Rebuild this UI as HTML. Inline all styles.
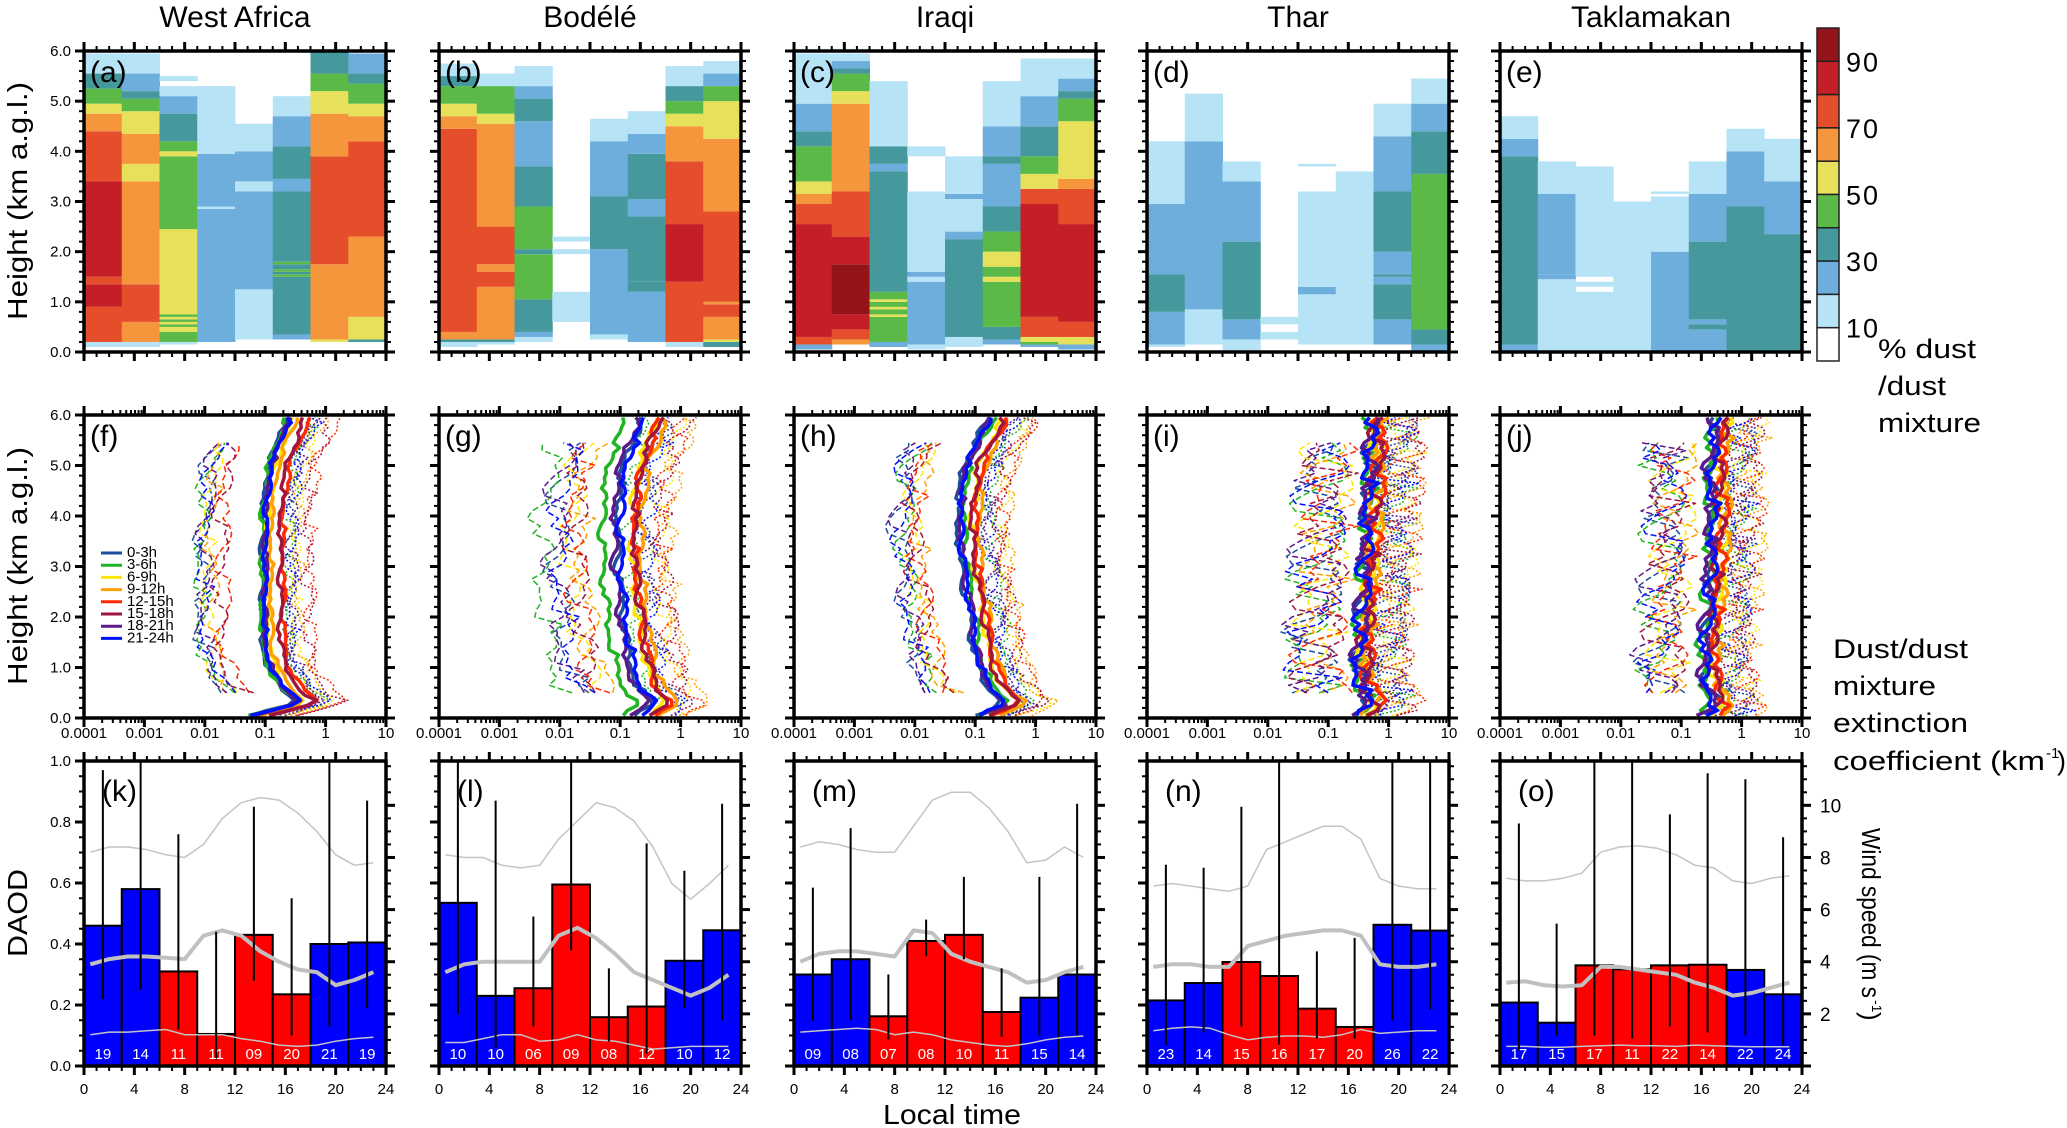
<!DOCTYPE html>
<html><head><meta charset="utf-8"><title>Dust diurnal cycle</title>
<style>
html,body{margin:0;padding:0;background:#fff;}
svg{display:block;}
text{font-family:"Liberation Sans",sans-serif;fill:#000;}
.tk{font-family:"Liberation Sans Narrow","Liberation Sans",sans-serif;font-size:15px;}
</style></head>
<body>
<svg id="fig" xmlns="http://www.w3.org/2000/svg" width="2067" height="1128" viewBox="0 0 2067 1128"></svg>
<script>
// ---------- DATA ----------
const regions = ["West Africa","Bodélé","Iraqi","Thar","Taklamakan"];
const levelColors = ["#ffffff","#b7e3f7","#6daedd","#45999c","#5bba47","#e6e05a","#f6963c","#e54e2a","#c41f26","#941519"];
const cbarLabels = ["90","70","50","30","10"];
const heatA = [
 [[0.1,0.2,1],[0.2,0.9,7],[0.9,1.35,8],[1.35,1.5,7],[1.5,3.4,8],[3.4,4.4,7],[4.4,4.75,6],[4.75,4.95,5],[4.95,5.25,4],[5.25,5.55,3],[5.55,5.95,1]],
 [[0.1,0.2,1],[0.2,0.6,6],[0.6,1.35,7],[1.35,3.4,6],[3.4,3.75,5],[3.75,4.35,6],[4.35,4.8,5],[4.8,5.05,4],[5.05,5.2,3],[5.2,5.55,2],[5.55,5.95,1]],
 [[0.15,0.2,1],[0.2,0.4,4],[0.4,0.5,5],[0.5,0.55,4],[0.55,0.6,5],[0.6,0.65,4],[0.65,0.7,5],[0.7,0.75,4],[0.75,2.45,5],[2.45,3.9,4],[3.9,4.0,5],[4.0,4.2,4],[4.2,4.75,3],[4.75,5.1,2],[5.1,5.3,1],[5.4,5.5,1]],
 [[0.2,2.85,2],[2.85,2.9,1],[2.9,3.95,2],[3.95,5.3,1]],
 [[0.25,1.25,1],[1.25,3.2,2],[3.2,3.4,1],[3.4,4.0,2],[4.0,4.55,1]],
 [[0.25,0.35,2],[0.35,1.5,3],[1.5,1.55,4],[1.55,1.6,3],[1.6,1.65,4],[1.65,1.75,3],[1.75,1.8,4],[1.8,3.2,3],[3.2,3.45,2],[3.45,4.1,3],[4.1,4.7,2],[4.7,5.1,1]],
 [[0.2,0.25,5],[0.25,1.75,6],[1.75,3.9,7],[3.9,4.75,6],[4.75,5.2,5],[5.2,5.55,4],[5.55,6.0,3]],
 [[0.2,0.25,3],[0.25,0.7,5],[0.7,2.3,6],[2.3,4.2,7],[4.2,4.7,6],[4.7,4.95,5],[4.95,5.35,4],[5.35,5.55,3],[5.55,5.95,2]]
];
const heatB = [
 [[0.1,0.2,1],[0.2,0.25,3],[0.25,0.4,6],[0.4,4.45,7],[4.45,4.7,6],[4.7,4.95,5],[4.95,5.3,4],[5.3,5.5,3],[5.5,5.75,1]],
 [[0.15,0.2,1],[0.2,0.25,3],[0.25,1.3,6],[1.3,1.6,7],[1.6,1.75,6],[1.75,2.5,7],[2.5,4.55,6],[4.55,4.75,5],[4.75,5.3,4],[5.3,5.55,1]],
 [[0.2,0.3,1],[0.3,0.4,2],[0.4,1.05,3],[1.05,1.95,4],[1.95,2.05,3],[2.05,2.9,4],[2.9,3.7,3],[3.7,4.6,2],[4.6,5.05,3],[5.05,5.3,2],[5.3,5.7,1]],
 [[0.6,1.2,1],[1.95,2.05,1],[2.2,2.3,1]],
 [[0.25,0.35,1],[0.35,2.05,2],[2.05,3.1,3],[3.1,3.25,2],[3.25,4.2,2],[4.2,4.65,1]],
 [[0.2,1.2,2],[1.2,1.4,3],[1.4,2.7,3],[2.7,3.05,2],[3.05,3.95,3],[3.95,4.35,2],[4.35,4.8,1]],
 [[0.1,0.2,1],[0.2,1.4,7],[1.4,2.55,8],[2.55,3.8,7],[3.8,4.5,6],[4.5,4.75,5],[4.75,5.0,4],[5.0,5.3,3],[5.3,5.7,1]],
 [[0.1,0.2,3],[0.2,0.25,5],[0.25,0.7,6],[0.7,0.95,7],[0.95,1.0,6],[1.0,2.8,7],[2.8,4.25,6],[4.25,5.0,5],[5.0,5.3,4],[5.3,5.55,2],[5.55,5.8,1]]
];
const heatC = [
 [[0.05,0.15,2],[0.15,0.3,7],[0.3,2.55,8],[2.55,2.95,7],[2.95,3.15,6],[3.15,3.4,5],[3.4,4.1,4],[4.1,4.4,3],[4.4,4.95,2],[4.95,5.95,1]],
 [[0.15,0.25,6],[0.25,0.45,7],[0.45,0.75,8],[0.75,1.75,9],[1.75,2.3,8],[2.3,3.2,7],[3.2,4.95,6],[4.95,5.2,5],[5.2,5.55,4],[5.55,5.65,3],[5.65,5.8,2],[5.8,5.95,1]],
 [[0.1,0.2,2],[0.2,0.7,4],[0.7,0.75,5],[0.75,0.85,4],[0.85,0.9,5],[0.9,1.0,4],[1.0,1.05,5],[1.05,1.2,4],[1.2,3.6,3],[3.6,3.75,2],[3.75,4.1,3],[4.1,5.4,1]],
 [[0.05,0.15,1],[0.15,1.4,2],[1.4,1.5,1],[1.5,1.6,2],[1.6,3.2,1],[3.9,4.1,1]],
 [[0.1,0.3,1],[0.3,2.25,3],[2.25,2.4,2],[2.4,3.05,1],[3.05,3.15,2],[3.15,3.9,1]],
 [[0.15,0.25,2],[0.25,0.5,3],[0.5,1.4,4],[1.4,1.5,5],[1.5,1.7,4],[1.7,2.0,5],[2.0,2.4,4],[2.4,2.9,3],[2.9,3.75,2],[3.75,3.9,3],[3.9,4.5,2],[4.5,5.4,1]],
 [[0.1,0.15,2],[0.15,0.2,4],[0.2,0.3,5],[0.3,0.7,7],[0.7,2.95,8],[2.95,3.25,7],[3.25,3.55,5],[3.55,3.9,4],[3.9,4.5,3],[4.5,5.1,2],[5.1,5.85,1]],
 [[0.05,0.15,2],[0.15,0.3,5],[0.3,0.6,7],[0.6,2.55,8],[2.55,3.25,7],[3.25,3.45,6],[3.45,4.6,5],[4.6,5.05,4],[5.05,5.2,3],[5.2,5.45,2],[5.45,5.85,1]]
];
const heatD = [
 [[0.1,0.15,1],[0.15,0.8,2],[0.8,1.55,3],[1.55,2.95,2],[2.95,4.2,1]],
 [[0.15,0.85,1],[0.85,4.2,2],[4.2,5.15,1]],
 [[0.0,0.25,1],[0.25,0.65,2],[0.65,2.2,3],[2.2,3.4,2],[3.4,3.8,1]],
 [[0.25,0.4,1],[0.55,0.7,1]],
 [[0.15,1.15,1],[1.15,1.3,2],[1.3,3.2,1],[3.7,3.75,1]],
 [[0.15,3.6,1]],
 [[0.15,0.65,2],[0.65,1.35,3],[1.35,1.5,2],[1.5,1.55,3],[1.55,2.0,2],[2.0,3.2,3],[3.2,4.3,2],[4.3,4.95,1]],
 [[0.0,0.15,2],[0.15,0.45,3],[0.45,3.55,4],[3.55,4.4,3],[4.4,4.95,2],[4.95,5.45,1]]
];
const heatE = [
 [[0.0,0.15,2],[0.15,3.9,3],[3.9,4.25,2],[4.25,4.7,1]],
 [[0.0,1.45,1],[1.45,1.55,2],[1.55,3.15,2],[3.15,3.8,1]],
 [[0.0,1.2,1],[1.3,1.4,1],[1.5,3.7,1]],
 [[0.0,3.0,1]],
 [[0.0,2.0,2],[2.0,3.1,1],[3.15,3.2,1]],
 [[0.0,0.45,2],[0.45,0.55,3],[0.55,0.65,2],[0.65,2.2,3],[2.2,3.15,2],[3.15,3.8,1]],
 [[0.0,2.9,3],[2.9,4.0,2],[4.0,4.45,1]],
 [[0.0,2.35,3],[2.35,3.4,2],[3.4,4.25,1]]
];
const heatPanels = [heatA,heatB,heatC,heatD,heatE];

const timeBins = ["0-3h","3-6h","6-9h","9-12h","12-15h","15-18h","18-21h","21-24h"];
const binColors = ["#1f4e9c","#22b322","#ffe600","#ffa000","#ff2a00","#a0153e","#5b1a8b","#0010ff"];
const profHeights = [0.05,0.3,0.6,1,1.5,2,3,4,5,5.9];
const profBaseF = [-1.2,-0.4,-0.7,-0.9,-1.0,-1.0,-1.0,-1.0,-0.9,-0.6];
const profBaseG = [-0.8,-0.5,-0.75,-0.85,-0.95,-1.0,-1.1,-1.1,-1.0,-0.7];
const profBaseH = [-1.0,-0.5,-0.8,-0.95,-1.05,-1.1,-1.25,-1.3,-1.2,-0.8];
const profBaseI = [-0.5,-0.3,-0.45,-0.5,-0.5,-0.45,-0.4,-0.35,-0.3,-0.3];
const profBaseJ = [-0.6,-0.4,-0.55,-0.6,-0.6,-0.55,-0.5,-0.45,-0.5,-0.4];
const profOffF = [-0.05,-0.05,0.05,0.1,0.3,0.25,0.0,0.0];
const profOffG = [0.05,-0.2,0.3,0.45,0.35,0.35,0.0,0.1];
const profOffH = [0.0,0.1,0.25,0.35,0.3,0.25,0.05,0.05];
const profOffI = [0.0,0.0,0.1,0.15,0.15,0.1,0.0,0.0];
const profOffJ = [0.0,-0.05,0.15,0.2,0.15,0.1,-0.05,0.0];
const profJitterAmp = [0.08,0.12,0.1,0.25,0.2];
const profLowerShift = [-1.0,-1.0,-1.0,-0.8,-0.8];
const jitter = [0.3,-0.8,0.5,-0.2,0.9,-0.6,0.1,-1.0,0.7,-0.3,0.4,-0.9,0.2,0.8,-0.5,0.6,-0.1,1.0,-0.7,0.0,-0.4,0.9,-0.2,0.5,-0.8,0.3,-0.6,0.7,-0.9,0.1,0.6,-0.3,0.8,-0.5,0.2,-1.0,0.4,-0.1,0.9,-0.7,0.5];

const daodK = [0.46,0.58,0.31,0.105,0.43,0.235,0.40,0.405];
const daodL = [0.535,0.23,0.255,0.595,0.16,0.195,0.345,0.445];
const daodM = [0.30,0.35,0.163,0.41,0.43,0.177,0.224,0.30];
const daodN = [0.215,0.272,0.341,0.295,0.188,0.128,0.463,0.444];
const daodO = [0.208,0.142,0.33,0.317,0.33,0.332,0.315,0.235];
const errLoK = [0.22,0.25,0.12,0.02,0.28,0.10,0.13,0.19];
const errHiK = [0.97,1.0,0.76,0.44,0.85,0.55,1.0,0.87];
const errLoL = [0.17,0.06,0.13,0.38,0.08,0.04,0.19,0.15];
const errHiL = [1.0,0.87,0.49,1.0,0.32,0.73,0.64,0.86];
const errLoM = [0.148,0.152,0.087,0.36,0.35,0.096,0.10,0.10];
const errHiM = [0.585,0.78,0.30,0.48,0.62,0.32,0.62,0.86];
const errLoN = [0.068,0.11,0.13,0.07,0.09,0.09,0.15,0.185];
const errHiN = [0.66,0.65,0.85,1.0,0.376,0.42,1.0,1.0];
const errLoO = [0.05,0.10,0.10,0.09,0.13,0.11,0.10,0.068];
const errHiO = [0.795,0.467,1.0,1.0,0.825,0.96,0.94,0.75];
const countsK = ["19","14","11","11","09","20","21","19"];
const countsL = ["10","10","06","09","08","12","10","12"];
const countsM = ["09","08","07","08","10","11","15","14"];
const countsN = ["23","14","15","16","17","20","26","22"];
const countsO = ["17","15","17","11","22","14","22","24"];
const windHours = [0.5,2,3.5,5,6.5,8,9.5,11,12.5,14,15.5,17,18.5,20,21.5,23];
const windHiK = [8.2,8.4,8.4,8.3,8.1,8.0,8.5,9.5,10.1,10.3,10.2,9.7,9.0,8.1,7.7,7.8];
const windMeanK = [3.9,4.1,4.2,4.2,4.15,4.1,5.0,5.2,5.0,4.4,4.0,3.7,3.6,3.1,3.3,3.6];
const windLoK = [1.2,1.3,1.3,1.35,1.4,1.2,1.2,1.2,1.05,0.95,0.8,0.75,0.8,0.95,1.05,1.1];
const windHiL = [8.1,8.0,8.0,7.7,7.6,7.7,8.7,9.4,10.1,9.9,9.4,8.4,7.0,6.4,7.0,7.7];
const windMeanL = [3.6,3.9,4.0,4.0,4.0,4.0,5.0,5.3,4.9,4.3,3.6,3.3,3.0,2.7,3.0,3.5];
const windLoL = [0.9,0.9,1.05,1.2,1.2,0.95,1.0,1.2,1.0,0.95,0.8,0.65,0.7,0.75,0.75,0.75];
const windHiM = [8.4,8.6,8.5,8.3,8.2,8.2,9.2,10.2,10.5,10.5,9.9,9.0,7.8,7.9,8.4,8.0];
const windMeanM = [4.0,4.3,4.4,4.4,4.3,4.2,5.2,5.1,4.3,4.0,3.8,3.6,3.2,3.3,3.6,3.8];
const windLoM = [1.3,1.35,1.4,1.45,1.4,1.2,1.3,1.2,1.0,0.9,0.8,0.75,0.85,1.0,1.1,1.15];
const windHiN = [6.9,7.0,6.9,6.8,6.7,6.9,8.3,8.6,8.9,9.2,9.2,8.7,7.2,6.9,6.8,6.8];
const windMeanN = [3.8,3.9,3.9,3.8,3.8,4.6,4.8,5.0,5.1,5.2,5.2,5.0,3.9,3.8,3.8,3.9];
const windLoN = [1.35,1.45,1.5,1.45,1.2,1.0,1.1,1.15,1.15,1.1,1.2,1.4,1.25,1.3,1.35,1.35];
const windHiO = [7.2,7.1,7.1,7.2,7.4,8.2,8.4,8.45,8.35,8.1,7.7,7.6,7.1,7.0,7.2,7.3];
const windMeanO = [3.2,3.25,3.1,3.05,3.1,3.8,3.8,3.7,3.6,3.5,3.2,3.0,2.7,2.8,3.0,3.2];
const windLoO = [0.75,0.75,0.72,0.72,0.75,0.78,0.8,0.78,0.78,0.75,0.8,0.78,0.75,0.74,0.74,0.74];
const daodTicks = ["0.0","0.2","0.4","0.6","0.8","1.0"];
const windTicks = ["2","4","6","8","10"];
const hourTicks = ["0","4","8","12","16","20","24"];
const logTicks = ["0.0001","0.001","0.01","0.1","1","10"];
const kmTicks = ["0.0","1.0","2.0","3.0","4.0","5.0","6.0"];

// ---------- LAYOUT ----------
const NS="http://www.w3.org/2000/svg";
const svg=document.getElementById('fig');
const LEFT=[84,439,794,1147,1500], PW=302;
const R1=[51,352], R2=[415,718], R3=[761,1066];
const WMAX=11.7;
function mk(tag,attrs,parent){const e=document.createElementNS(NS,tag);for(const k in attrs)e.setAttribute(k,attrs[k]);(parent||svg).appendChild(e);return e;}
function txt(s,attrs,parent){const e=mk('text',attrs,parent);e.textContent=s;return e;}
const xHour=(p,h)=>LEFT[p]+h/24*PW;
const yKm=(row,k)=>row[1]-k/6*(row[1]-row[0]);
const xLog=(p,lv)=>LEFT[p]+(lv+4)/5*PW;
const yDaod=v=>R3[1]-v*(R3[1]-R3[0]);
const yWind=w=>R3[1]-w/WMAX*(R3[1]-R3[0]);

function ticks(p,row,xMaj,xMin,yMaj,yMin,rMaj,rMin){
  const g=mk('g',{stroke:'#000','stroke-width':2});
  
  
  const x0=LEFT[p],x1=LEFT[p]+PW,y0=row[0],y1=row[1];
  xMaj.forEach(x=>{mk('line',{x1:x,x2:x,y1:y1,y2:y1+9,'stroke-width':3},g);mk('line',{x1:x,x2:x,y1:y0,y2:y0-9,'stroke-width':3},g);});
  xMin.forEach(x=>{mk('line',{x1:x,x2:x,y1:y1,y2:y1+5},g);mk('line',{x1:x,x2:x,y1:y0,y2:y0-5},g);});
  yMaj.forEach(y=>{mk('line',{x1:x0,x2:x0-9,y1:y,y2:y,'stroke-width':3},g);});
  yMin.forEach(y=>{mk('line',{x1:x0,x2:x0-5,y1:y,y2:y},g);});
  (rMaj||yMaj).forEach(y=>{mk('line',{x1:x1,x2:x1+9,y1:y,y2:y,'stroke-width':3},g);});
  (rMin||yMin).forEach(y=>{mk('line',{x1:x1,x2:x1+5,y1:y,y2:y},g);});
  const f=mk('rect',{x:x0,y:y0,width:PW,height:y1-y0,fill:'none',stroke:'#000','stroke-width':3.5});
  
  
}
function range(a,b,s){const r=[];for(let v=a;v<=b+1e-9;v+=s)r.push(v);return r;}
const letters="abcdefghijklmno";

regions.forEach((r,p)=>{
  const t=txt(r,{x:LEFT[p]+PW/2,y:27,'text-anchor':'middle','font-size':30});
  
  
});

// ROW 1
heatPanels.forEach((cols,p)=>{
  const g=mk('g',{});
  
  
  cols.forEach((segs,c)=>{
    segs.forEach(s=>{
      const r=mk('rect',{x:xHour(p,c*3),y:yKm(R1,s[1]),width:xHour(p,c*3+3)-xHour(p,c*3)+0.5,height:yKm(R1,s[0])-yKm(R1,s[1]),fill:levelColors[s[2]]},g);
      
      
    });
  });
  ticks(p,R1,range(0,24,4).map(h=>xHour(p,h)),range(0,24,1).map(h=>xHour(p,h)),range(0,6,1).map(k=>yKm(R1,k)),range(0,6,0.2).map(k=>yKm(R1,k)));
  const lb=txt('('+letters[p]+')',{x:LEFT[p]+6,y:R1[0]+31,'font-size':30});
  
  
});
kmTicks.forEach((s,i)=>{
  const t=txt(s,{x:LEFT[0]-13,y:yKm(R1,i)+5,'text-anchor':'end',class:'tk','font-size':14});
  
  
});

const cbX=1817,cbY=28,cbW=22,cbH=333;
levelColors.slice().reverse().forEach((c,i)=>{
  const r=mk('rect',{x:cbX,y:cbY+i*cbH/10,width:cbW,height:cbH/10,fill:c,stroke:'#222','stroke-width':1.5});
  
  
});
cbarLabels.forEach((s,i)=>{
  const t=txt(s,{x:1846,y:cbY+(1+2*i)*cbH/10+10,'font-size':27,'letter-spacing':2});
  
  
});
[["% dust",358,98],["/dust",395,68],["mixture",432,103]].forEach(a=>{
  const t=txt(a[0],{x:1878,y:a[1],'font-size':27,textLength:a[2],lengthAdjust:'spacingAndGlyphs'});
  
  
});

// ROW 2
const profBases=[profBaseF,profBaseG,profBaseH,profBaseI,profBaseJ];
const profOffs=[profOffF,profOffG,profOffH,profOffI,profOffJ];
const clip=(p,row,id)=>{const d=mk('clipPath',{id:id});mk('rect',{x:LEFT[p],y:row[0],width:PW,height:row[1]-row[0]},d);return 'url(#'+id+')';};
function interp(hs,vs,h){for(let i=0;i<hs.length-1;i++){if(h<=hs[i+1])return vs[i]+(vs[i+1]-vs[i])*(h-hs[i])/(hs[i+1]-hs[i]);}return vs[vs.length-1];}
for(let p=0;p<5;p++){
  const cp=clip(p,R2,'cp'+p);
  const g=mk('g',{'clip-path':cp});
  
  
  const amp=profJitterAmp[p];
  ['lower','upper','median'].forEach(kind=>{
    for(let s=0;s<8;s++){
      const pts=[];
      const step=kind==='lower'?0.15:0.1;
      const n=Math.round(5.9/step);
      for(let k=0;k<=n;k++){
        const h=0.05+k*step;
        if(h>5.95)continue;
        if(kind==='lower'&&(h<0.4||h>5.5))continue;
        const j=jitter[(k*11+s*5+p*3)%jitter.length];
        let v=interp(profHeights,profBases[p],h)+profOffs[p][s];
        if(kind==='lower')v+=profLowerShift[p]+j*amp*2;
        else if(kind==='upper')v+=0.45+j*amp*1.5;
        else v+=j*amp*0.6;
        pts.push(xLog(p,v).toFixed(1)+','+yKm(R2,h).toFixed(1));
      }
      const pl=mk('polyline',{points:pts.join(' '),fill:'none',stroke:binColors[s],
        'stroke-width':kind==='median'?3.5:1.5,'stroke-dasharray':kind==='lower'?'6,3':(kind==='upper'?'2,2':'none'),'stroke-linejoin':'round'},g);
      
      
    }
  });
  const decs=range(-4,1,1), mins=[];
  for(let d=-4;d<1;d++)for(let m=2;m<10;m++)mins.push(xLog(p,d+Math.log10(m)));
  ticks(p,R2,decs.map(d=>xLog(p,d)),mins,range(0,6,1).map(k=>yKm(R2,k)),range(0,6,0.2).map(k=>yKm(R2,k)));
  logTicks.forEach((s,i)=>{
    const t=txt(s,{x:xLog(p,i-4),y:738,'text-anchor':'middle',class:'tk','font-size':13});
    
    
  });
  const lb=txt('('+letters[p+5]+')',{x:LEFT[p]+6,y:R2[0]+31,'font-size':30});
  
  
}
kmTicks.forEach((s,i)=>{
  const t=txt(s,{x:LEFT[0]-13,y:yKm(R2,i)+5,'text-anchor':'end',class:'tk','font-size':14});
  
  
});
const lg=mk('g',{});


timeBins.forEach((b,i)=>{
  const y=553+i*12.2;
  const l=mk('line',{x1:101,x2:122,y1:y,y2:y,stroke:binColors[i],'stroke-width':3},lg);
  
  
  const t=txt(b,{x:127,y:y+4,'font-size':9,class:'tk'},lg);
  
  
});
[["Dust/dust",658,135],["mixture",695,103],["extinction",732,135],["coefficient (km",770,212]].forEach(a=>{
  const t=txt(a[0],{x:1833,y:a[1],'font-size':27,textLength:a[2],lengthAdjust:'spacingAndGlyphs'});
  
  
});
const sup=txt('-1',{x:2046,y:758,'font-size':15});


const cpar=txt(')',{x:2057,y:770,'font-size':27});



// ROW 3
const daods=[daodK,daodL,daodM,daodN,daodO];
const errLo=[errLoK,errLoL,errLoM,errLoN,errLoO];
const errHi=[errHiK,errHiL,errHiM,errHiN,errHiO];
const counts=[countsK,countsL,countsM,countsN,countsO];
const wHi=[windHiK,windHiL,windHiM,windHiN,windHiO];
const wMean=[windMeanK,windMeanL,windMeanM,windMeanN,windMeanO];
const wLo=[windLoK,windLoL,windLoM,windLoN,windLoO];
for(let p=0;p<5;p++){
  const cp=clip(p,R3,'cq'+p);
  const g=mk('g',{'clip-path':cp});
  
  
  daods[p].forEach((v,i)=>{
    const x0=xHour(p,i*3),x1=xHour(p,i*3+3);
    const r=mk('rect',{x:x0,y:yDaod(v),width:x1-x0,height:yDaod(0)-yDaod(v),fill:(i<2||i>5)?'#0000ff':'#ff0000',stroke:'#000','stroke-width':2},g);
    
    
  });
  [[wHi[p],1.5,'#c4c4c4','wind-upper-line'],[wLo[p],1.5,'#c4c4c4','wind-lower-line'],[wMean[p],4,'#c0c0c0','wind-mean-line']].forEach(a=>{
    const pts=windHours.map((h,i)=>xHour(p,h).toFixed(1)+','+yWind(a[0][i]).toFixed(1)).join(' ');
    const pl=mk('polyline',{points:pts,fill:'none',stroke:a[2],'stroke-width':a[1],'stroke-linejoin':'round'},g);
    
    
  });
  daods[p].forEach((v,i)=>{
    const xc=xHour(p,i*3+1.5);
    const l=mk('line',{x1:xc,x2:xc,y1:yDaod(errLo[p][i]),y2:yDaod(errHi[p][i]),stroke:'#000','stroke-width':2},g);
    
    
    const t=txt(counts[p][i],{x:xc,y:R3[1]-7,'text-anchor':'middle',class:'tk','font-size':14,style:'fill:#fff'},g);
    
    
  });
  ticks(p,R3,range(0,24,4).map(h=>xHour(p,h)),range(0,24,1).map(h=>xHour(p,h)),
    range(0,1,0.2).map(yDaod),range(0,1,0.05).map(yDaod),
    range(0,10,2).map(yWind),range(0,11.5,0.5).map(yWind));
  hourTicks.forEach((s,i)=>{
    const t=txt(s,{x:xHour(p,i*4),y:1094,'text-anchor':'middle',class:'tk','font-size':14});
    
    
  });
  const lb=txt('('+letters[p+10]+')',{x:LEFT[p]+18,y:R3[0]+40,'font-size':30});
  
  
}
daodTicks.forEach((s,i)=>{
  const t=txt(s,{x:LEFT[0]-13,y:yDaod(i*0.2)+5,'text-anchor':'end',class:'tk','font-size':14});
  
  
});
windTicks.forEach((s,i)=>{
  const t=txt(s,{x:LEFT[4]+PW+18,y:yWind((i+1)*2)+7,'font-size':19});
  
  
});

function vtitle(s,x,y,len,name,rot){
  const t=txt(s,{x:0,y:0,'font-size':28,'text-anchor':'middle',transform:'translate('+x+','+y+') rotate('+rot+')',textLength:len,lengthAdjust:'spacingAndGlyphs'});
  
  
}
vtitle('Height (km a.g.l.)',27,201,238,'y-axis-title',-90);
vtitle('Height (km a.g.l.)',27,566,238,'y-axis-title',-90);
vtitle('DAOD',27,913,88,'y-axis-title',-90);
const ws=txt('Wind speed (m s',{x:0,y:0,'font-size':26,transform:'translate(1862,828) rotate(90)',textLength:170,lengthAdjust:'spacingAndGlyphs'});


const ws2=txt('-1',{x:0,y:0,'font-size':14,transform:'translate(1872,1000) rotate(90)'});


const ws3=txt(')',{x:0,y:0,'font-size':26,transform:'translate(1862,1012) rotate(90)'});


const lt=txt('Local time',{x:952,y:1124,'font-size':28,'text-anchor':'middle',textLength:138,lengthAdjust:'spacingAndGlyphs'});


</script>
</body></html>
